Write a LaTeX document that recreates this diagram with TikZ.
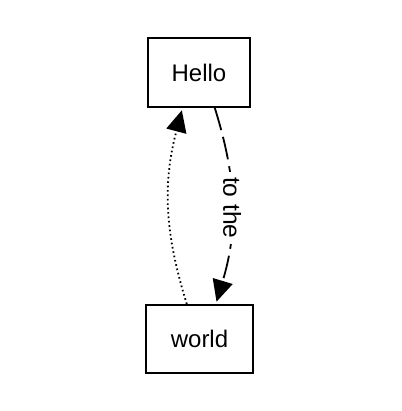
\documentclass[tikz,border=0pt]{standalone}
\usepackage{fontspec}
\setmainfont{Liberation Sans}
\usepackage{xcolor}
\usepackage{tikz}
\usetikzlibrary{arrows.meta}
\tikzset{
  box/.style={rectangle, draw=black, fill=white, line width=1pt,
    inner sep=0pt, font=\fontsize{12pt}{14pt}\selectfont},
  dasharrow/.style={-{Triangle[length=10.8pt, width=10.2pt]}, line width=0.9pt,
    dash pattern=on 11.5pt off 3.5pt, shorten >=1.2pt},
  dotarrow/.style={-{Triangle[length=10.8pt, width=10.2pt]}, line width=0.9pt,
    dash pattern=on 0.8pt off 1.4pt, shorten >=1.2pt},
  edgelabel/.style={fill=white, inner xsep=2.5pt, inner ysep=1pt, rotate=-90,
    font=\fontsize{12.3pt}{14pt}\selectfont}
}

\begin{document}
\begin{tikzpicture}[x=0.5pt, y=0.5pt]
  \useasboundingbox (0,0) rectangle (401,411);

  % Boxes
  \node[box, minimum width=51pt, minimum height=34.5pt] (hello) at (199,338.5) {Hello};
  \node[box, minimum width=53.5pt, minimum height=34pt] (world) at (199.5,72) {world};

  % Dashed edge with label
  \draw[dasharrow] (hello.-66.5) to[bend left=17]
    node[midway, edgelabel, xshift=1pt] {to the} (world.65.5);

  % Dotted edge back
  \draw[dotarrow] (world.110) to[bend left=16] (hello.245);
\end{tikzpicture}
\end{document}
